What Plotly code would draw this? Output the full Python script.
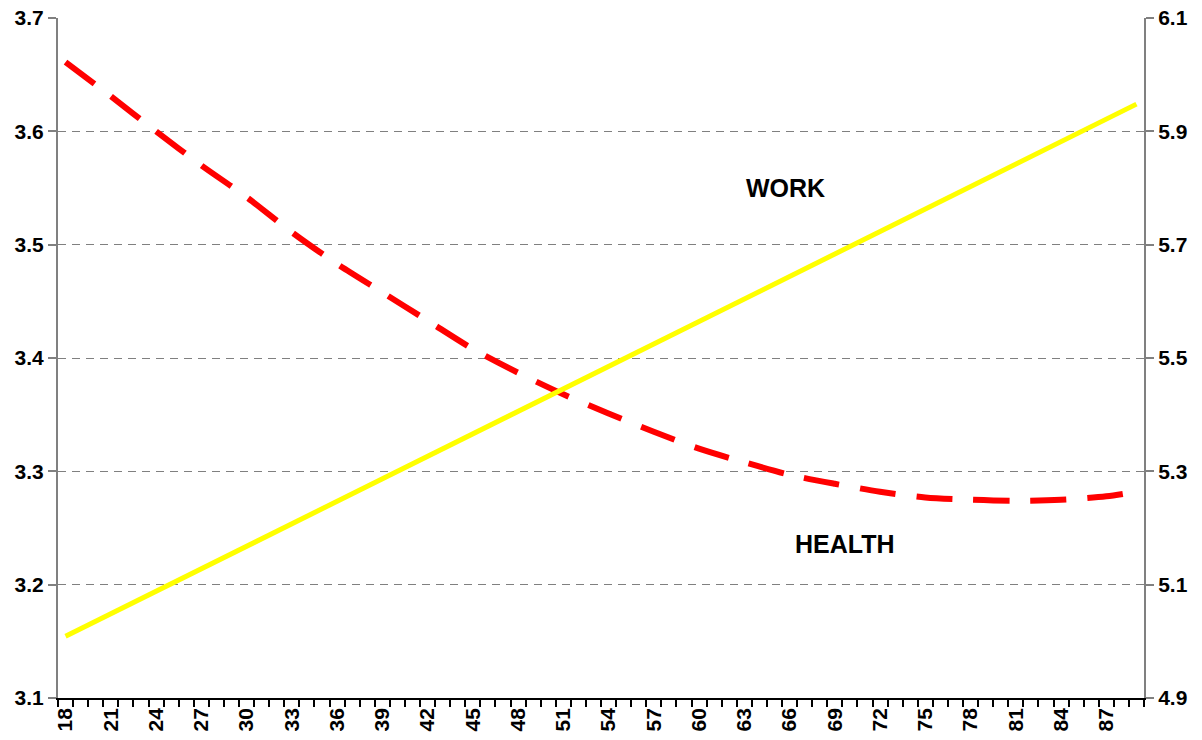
import plotly.graph_objects as go

# ages on the category axis, labels every third year
ages = list(range(18, 90))
tickAges = list(range(18, 90, 3))

# HEALTH (left axis)
healthAges = [18, 21, 24, 27, 30, 33, 36, 39, 42, 45, 48, 51, 54, 57, 60, 63, 66, 69, 72, 75, 78, 81, 84, 87, 89]
healthVals = [3.661, 3.631, 3.600, 3.570, 3.542, 3.511, 3.483, 3.458, 3.433, 3.408, 3.387, 3.368, 3.351,
              3.335, 3.320, 3.308, 3.297, 3.289, 3.282, 3.277, 3.275, 3.274, 3.275, 3.278, 3.282]

# WORK (right axis), a straight line
workAges = [18, 89]
workVals = [5.009, 5.948]

font = "Liberation Sans, Arial, sans-serif"

fig = go.Figure()

fig.add_trace(go.Scatter(
    x=healthAges, y=healthVals, name='HEALTH', mode='lines',
    line=dict(color='#FF0000', width=6, dash='36px,21px', shape='spline', smoothing=0.8),
    yaxis='y'
))
fig.add_trace(go.Scatter(
    x=workAges, y=workVals, name='WORK', mode='lines',
    line=dict(color='#FFFF00', width=5),
    yaxis='y2'
))

fig.add_annotation(text='<b>WORK</b>', x=0.670, y=0.750, xref='paper', yref='paper',
                   xanchor='center', yanchor='middle',
                   showarrow=False, font=dict(family=font, size=25, color='black'))
fig.add_annotation(text='<b>HEALTH</b>', x=0.725, y=0.2265, xref='paper', yref='paper',
                   xanchor='center', yanchor='middle',
                   showarrow=False, font=dict(family=font, size=25, color='black'))

fig.update_layout(
    width=1202, height=740,
    margin=dict(l=58, r=58, t=18, b=42, autoexpand=False),
    paper_bgcolor='white', plot_bgcolor='white',
    showlegend=False,
    font=dict(family=font, color='black'),
    xaxis=dict(
        range=[17.5, 89.5], tickmode='array', tickvals=tickAges,
        ticktext=[f'<b>{a}</b>' for a in tickAges],
        tickangle=-90, tickfont=dict(size=21),
        ticks='', showgrid=False, zeroline=False, automargin=False,
        showline=True, linecolor='black', linewidth=1.5,
        minor=dict(ticks='outside', tick0=17.5, dtick=1, ticklen=7, tickcolor='black', tickwidth=1.5, showgrid=False),
    ),
    yaxis=dict(
        range=[3.1, 3.7], tickmode='linear', tick0=3.1, dtick=0.1,
        tickformat='.1f', tickfont=dict(size=21, weight='bold'), automargin=False,
        ticks='outside', ticklen=8, tickcolor='#808080', tickwidth=1.5,
        showline=True, linecolor='#808080', linewidth=2,
        showgrid=True, gridcolor='#808080', gridwidth=1, griddash='8px,6px',
        zeroline=False,
    ),
    yaxis2=dict(
        range=[4.9, 6.1], tickmode='linear', tick0=4.9, dtick=0.2,
        tickformat='.1f', tickfont=dict(size=21, weight='bold'), automargin=False,
        overlaying='y', side='right',
        ticks='outside', ticklen=8, tickcolor='#808080', tickwidth=1.5,
        showline=True, linecolor='#808080', linewidth=2,
        showgrid=False, zeroline=False,
    ),
)

# drop the page margin so the figure sits at the window corner
fig.write_html("out.html", config={'displayModeBar': False},
               post_script="document.body.style.margin='0';")
